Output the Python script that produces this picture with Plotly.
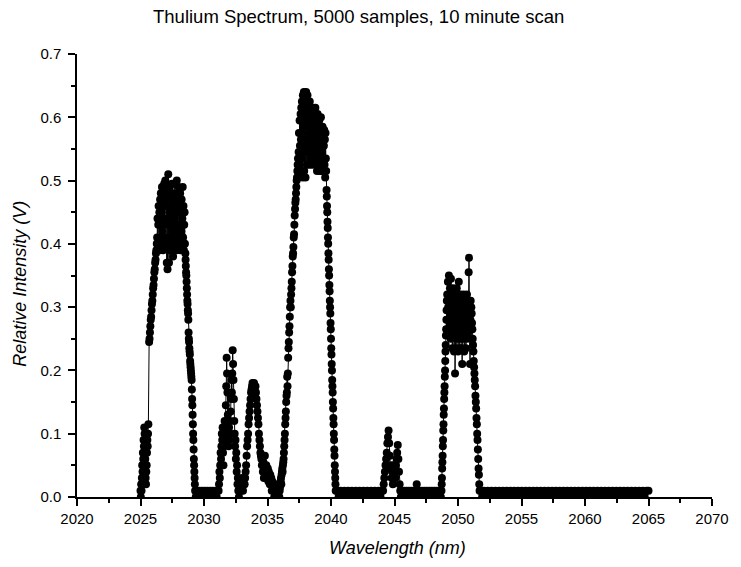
import numpy as np
import plotly.graph_objects as go

# ---- data: wavelength spans (nm) of scan segments and the intensities (V) read in each ----
p1_foot_nm = (2025.00, 2025.62)
p1_foot = [0.01, 0.0, 0.02, 0.01, 0.03, 0.05, 0.04, 0.07, 0.06, 0.09, 0.08, 0.11, 0.10, 0.08,
           0.06, 0.03, 0.02, 0.04, 0.05, 0.07, 0.09, 0.08, 0.10, 0.115]

p1_rise_nm = (2025.68, 2026.28)
p1_rise = [0.245, 0.25, 0.26, 0.27, 0.28, 0.285, 0.295, 0.305, 0.31, 0.32, 0.33, 0.335, 0.345,
           0.355, 0.36, 0.37, 0.375, 0.385, 0.39, 0.40]

p1_top_nm = (2026.31, 2028.50)
p1_top = [0.41, 0.44, 0.40, 0.43, 0.46, 0.41, 0.45, 0.39, 0.47, 0.43, 0.48, 0.40, 0.45, 0.49,
          0.42, 0.46, 0.39, 0.48, 0.44, 0.495, 0.41, 0.47, 0.50, 0.43, 0.46, 0.40,
          0.37, 0.48, 0.36, 0.44, 0.51, 0.41, 0.37, 0.49, 0.45, 0.39,
          0.43, 0.48, 0.40, 0.46, 0.495, 0.42, 0.45, 0.38, 0.47, 0.41, 0.495, 0.44, 0.40, 0.48,
          0.43, 0.46, 0.39, 0.50, 0.42, 0.47, 0.41, 0.45, 0.49, 0.40, 0.46, 0.43, 0.48, 0.39,
          0.45, 0.42, 0.47, 0.40, 0.44, 0.49, 0.41, 0.46, 0.39, 0.43, 0.45, 0.40]

p1_fall_nm = (2028.53, 2029.30)
p1_fall = [0.385, 0.375, 0.365, 0.355, 0.35, 0.34, 0.33, 0.32, 0.31, 0.305, 0.295, 0.29, 0.28,
           0.26, 0.25, 0.245, 0.235, 0.23, 0.225, 0.215, 0.21, 0.205, 0.20, 0.195, 0.19, 0.185,
           0.17, 0.155, 0.145, 0.13, 0.115, 0.10, 0.09, 0.075, 0.06, 0.05, 0.04, 0.03, 0.02, 0.01]

band1_nm = (2029.35, 2031.10)
band1 = [0.0, 0.01, 0.0, 0.01, 0.0, 0.01, 0.0, 0.01, 0.0, 0.01, 0.0, 0.01, 0.0, 0.01, 0.0,
         0.01, 0.0, 0.01]

p2_nm = (2031.15, 2032.70)
p2 = [0.01, 0.02, 0.04, 0.03, 0.05, 0.07, 0.06, 0.08, 0.10, 0.09,
      0.11, 0.07, 0.05, 0.08, 0.10, 0.12, 0.09, 0.11, 0.145, 0.175,
      0.22, 0.195, 0.165, 0.13, 0.10,
      0.08, 0.11, 0.09, 0.12, 0.10, 0.135, 0.155, 0.185, 0.165, 0.195,
      0.232, 0.21, 0.185, 0.155, 0.12,
      0.10, 0.08, 0.09, 0.06, 0.07, 0.04, 0.05, 0.02, 0.03, 0.01]

band2_nm = (2032.75, 2033.15)
band2 = [0.0, 0.02, 0.01, 0.03, 0.01, 0.02]

p3_nm = (2033.20, 2035.80)
p3 = [0.02, 0.03, 0.04, 0.05, 0.065, 0.08, 0.09, 0.10, 0.115, 0.125, 0.135, 0.145, 0.155, 0.165, 0.17,
      0.175, 0.18, 0.165, 0.175, 0.18, 0.17, 0.16, 0.175, 0.165, 0.155,
      0.145, 0.135, 0.125, 0.115, 0.10, 0.09, 0.08, 0.07, 0.065, 0.06,
      0.05, 0.06, 0.04, 0.055, 0.03, 0.05, 0.065, 0.045, 0.035, 0.05, 0.04, 0.03, 0.045, 0.025,
      0.04, 0.03, 0.02, 0.035,
      0.02, 0.03, 0.01, 0.025, 0.02, 0.01, 0.015, 0.0, 0.01, 0.02, 0.01, 0.0, 0.01, 0.0, 0.01]

p4_rise_nm = (2035.88, 2037.40)
p4_rise = [0.0, 0.01, 0.0, 0.01,
           0.015, 0.02, 0.025, 0.03, 0.02, 0.035, 0.04, 0.045, 0.04, 0.05, 0.055, 0.06,
           0.07, 0.08, 0.09, 0.10, 0.115, 0.125, 0.135, 0.15, 0.16,
           0.165, 0.19, 0.175, 0.195,
           0.22, 0.235, 0.245, 0.26, 0.27, 0.285, 0.30, 0.31,
           0.30, 0.32, 0.33, 0.34, 0.355, 0.365,
           0.38, 0.385, 0.395, 0.41, 0.415, 0.43,
           0.445, 0.455, 0.465, 0.47, 0.48, 0.49,
           0.50, 0.505, 0.515, 0.525, 0.535]

p4_top_nm = (2037.45, 2039.62)
p4_top = [0.545, 0.575, 0.525, 0.595, 0.555, 0.515, 0.605, 0.565, 0.615,
          0.535, 0.625, 0.575, 0.505, 0.635, 0.585, 0.545, 0.64, 0.515, 0.595, 0.625, 0.555,
          0.505, 0.615, 0.64, 0.565, 0.525, 0.605, 0.635, 0.545, 0.585,
          0.615, 0.555, 0.595, 0.525, 0.625, 0.575, 0.535, 0.605, 0.565, 0.615, 0.545, 0.585,
          0.525, 0.615, 0.575, 0.545, 0.605, 0.565, 0.535, 0.595, 0.555, 0.615, 0.525, 0.585,
          0.565, 0.595, 0.515, 0.575, 0.605, 0.535, 0.585, 0.555, 0.525, 0.595, 0.565, 0.515,
          0.585, 0.545, 0.60, 0.525, 0.575, 0.555, 0.515, 0.585, 0.535,
          0.575, 0.515, 0.555, 0.58, 0.525, 0.565, 0.505, 0.575, 0.535, 0.515]

p4_fall_nm = (2039.65, 2040.37)
p4_fall = [0.485, 0.475, 0.46, 0.45, 0.435, 0.425, 0.41, 0.40, 0.385, 0.375, 0.36, 0.35, 0.335,
           0.325, 0.31, 0.30, 0.29, 0.275, 0.265, 0.25, 0.235, 0.225, 0.21, 0.20, 0.185, 0.175,
           0.165, 0.15, 0.14, 0.125, 0.115, 0.10, 0.09, 0.075, 0.065, 0.05, 0.04, 0.03, 0.02, 0.01]

band3_nm = (2040.45, 2044.05)
band3 = [0.01, 0.0, 0.01, 0.0, 0.01, 0.0, 0.01, 0.0, 0.01, 0.0, 0.01, 0.0, 0.01, 0.0, 0.01,
         0.0, 0.01, 0.0, 0.01, 0.0, 0.01, 0.0, 0.01, 0.0, 0.01]

p_small_nm = (2044.10, 2045.50)
p_small = [0.01, 0.02, 0.03, 0.04, 0.05, 0.06, 0.07, 0.085, 0.095, 0.105, 0.085, 0.065, 0.045,
           0.05, 0.03, 0.04, 0.02, 0.03, 0.05, 0.04, 0.03, 0.05, 0.06, 0.07, 0.082, 0.06, 0.04,
           0.02, 0.01, 0.0]

band4_nm = (2045.55, 2048.65)
band4 = [0.01, 0.0, 0.01, 0.0, 0.01, 0.0, 0.01, 0.0, 0.01, 0.0, 0.01, 0.0, 0.02, 0.0, 0.01,
         0.0, 0.01, 0.0, 0.01, 0.0, 0.01, 0.0, 0.01, 0.0, 0.01, 0.0, 0.01, 0.0, 0.01, 0.0,
         0.01, 0.0]

p5_rise_nm = (2048.70, 2049.12)
p5_rise = [0.01, 0.02, 0.03, 0.045, 0.055, 0.065, 0.08, 0.09, 0.105, 0.115, 0.13, 0.14, 0.155,
           0.165, 0.175, 0.19, 0.20, 0.215, 0.23, 0.24, 0.255, 0.265, 0.28, 0.295, 0.31]

p5_top_nm = (2049.15, 2051.00)
p5_top = [0.32, 0.28, 0.34, 0.30, 0.26, 0.35, 0.31, 0.27, 0.33, 0.29, 0.25, 0.345, 0.30, 0.27,
          0.32, 0.235, 0.29, 0.33, 0.26,
          0.31, 0.23, 0.28, 0.32, 0.195, 0.26, 0.30, 0.235, 0.29, 0.33, 0.25, 0.28, 0.31, 0.23,
          0.27, 0.34, 0.26, 0.30, 0.235, 0.28, 0.32, 0.25, 0.29,
          0.31, 0.235, 0.21, 0.28, 0.30, 0.25, 0.32, 0.27, 0.23, 0.29, 0.31, 0.26, 0.28, 0.235,
          0.30, 0.27, 0.32, 0.25,
          0.29, 0.31, 0.26, 0.355, 0.378, 0.30, 0.27, 0.21, 0.28, 0.31]

p5_fall_nm = (2051.05, 2051.70)
p5_fall = [0.30, 0.29, 0.275, 0.265, 0.25, 0.24, 0.23, 0.215, 0.205, 0.195, 0.185, 0.175, 0.16,
           0.15, 0.14, 0.125, 0.115, 0.10, 0.09, 0.075, 0.06, 0.045, 0.035, 0.02, 0.01]

band5_nm = (2051.75, 2065.00)
band5 = [0.01, 0.0, 0.01, 0.0, 0.01, 0.0, 0.01, 0.0, 0.01, 0.0, 0.01, 0.0, 0.01, 0.0, 0.01, 0.0,
         0.01, 0.0, 0.01, 0.0, 0.01, 0.0, 0.01, 0.0, 0.01, 0.0, 0.01, 0.0, 0.01, 0.0, 0.01, 0.0,
         0.01, 0.0, 0.01, 0.0, 0.01, 0.0, 0.01, 0.0, 0.01, 0.0, 0.01, 0.0, 0.01, 0.0, 0.01, 0.0,
         0.01, 0.0, 0.01, 0.0, 0.01, 0.0, 0.01, 0.0, 0.01, 0.0, 0.01, 0.0, 0.01, 0.0, 0.01, 0.0,
         0.01, 0.0, 0.01, 0.0, 0.01, 0.0, 0.01, 0.0, 0.01, 0.0, 0.01, 0.0, 0.01, 0.0, 0.01, 0.0,
         0.01, 0.0, 0.01, 0.0, 0.01, 0.0, 0.01, 0.0, 0.01, 0.01]

x_ticks = [2020, 2025, 2030, 2035, 2040, 2045, 2050, 2055, 2060, 2065, 2070]
y_ticks = [0.0, 0.1, 0.2, 0.3, 0.4, 0.5, 0.6, 0.7]

segments = [
    (p1_foot_nm, p1_foot), (p1_rise_nm, p1_rise), (p1_top_nm, p1_top), (p1_fall_nm, p1_fall),
    (band1_nm, band1), (p2_nm, p2), (band2_nm, band2), (p3_nm, p3),
    (p4_rise_nm, p4_rise), (p4_top_nm, p4_top), (p4_fall_nm, p4_fall),
    (band3_nm, band3), (p_small_nm, p_small), (band4_nm, band4),
    (p5_rise_nm, p5_rise), (p5_top_nm, p5_top), (p5_fall_nm, p5_fall), (band5_nm, band5),
]

# wavelength grid of each scan segment (samples evenly spaced within the segment)
wl = np.concatenate([np.linspace(a, b, len(v)) for (a, b), v in segments])
inten = np.concatenate([np.asarray(v, dtype=float) for _, v in segments])

FONT = "Arial, 'Liberation Sans', sans-serif"

fig = go.Figure(go.Scatter(
    x=wl, y=inten, mode="lines+markers",
    line=dict(color="black", width=1),
    marker=dict(color="black", size=8, symbol="circle", line=dict(width=0)),
    showlegend=False,
))

axis_common = dict(
    showline=True, linecolor="black", linewidth=1.5, mirror=False,
    ticks="outside", ticklen=7, tickwidth=1.5, tickcolor="black",
    showgrid=False, zeroline=False,
    tickfont=dict(family=FONT, size=15, color="black"),
)

fig.update_xaxes(
    range=[2020, 2070], tickvals=x_ticks, ticktext=[str(t) for t in x_ticks],
    minor=dict(dtick=2.5, tick0=2020, ticks="outside", ticklen=4, tickwidth=1.5,
               tickcolor="black", showgrid=False),
    **axis_common,
)
fig.update_yaxes(
    range=[0, 0.7], tickvals=y_ticks, ticktext=[f"{t:.1f}" for t in y_ticks],
    minor=dict(dtick=0.05, tick0=0, ticks="outside", ticklen=4, tickwidth=1.5,
               tickcolor="black", showgrid=False),
    ticklabelstandoff=4,
    **axis_common,
)

L, R, T, B = 77, 20, 54, 70
W, H = 741, 567
pw, ph = W - L - R, H - T - B

def px_x(px):
    return (px - L) / pw

def px_y(py):
    return (H - B - py) / ph

fig.update_layout(
    width=W, height=H,
    margin=dict(l=L, r=R, t=T, b=B, pad=0),
    paper_bgcolor="white", plot_bgcolor="white",
    font=dict(family=FONT, color="black"),
    annotations=[
        dict(text="Thulium Spectrum, 5000 samples, 10 minute scan",
             xref="paper", yref="paper", x=px_x(362), y=px_y(17),
             xanchor="center", yanchor="middle", showarrow=False,
             font=dict(family=FONT, size=18.5, color="black")),
        dict(text="<i>Wavelength (nm)</i>",
             xref="paper", yref="paper", x=px_x(402), y=px_y(548),
             xanchor="center", yanchor="middle", showarrow=False,
             font=dict(family=FONT, size=18, color="black")),
        dict(text="<i>Relative Intensity (V)</i>",
             xref="paper", yref="paper", x=px_x(19), y=px_y(284),
             xanchor="center", yanchor="middle", showarrow=False, textangle=-90,
             font=dict(family=FONT, size=18, color="black")),
    ],
)

fig.write_html("out.html")
